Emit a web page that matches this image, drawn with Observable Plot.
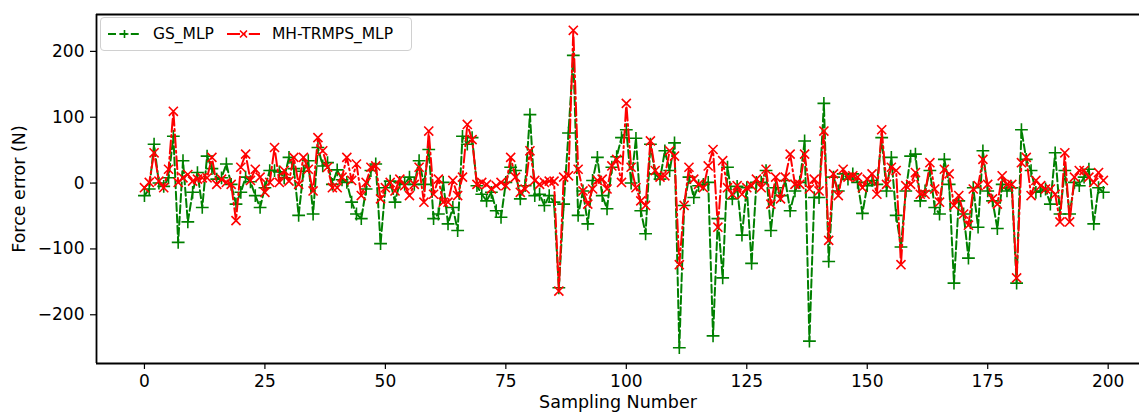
<!DOCTYPE html>
<html><head><meta charset="utf-8">
<script src="https://cdn.jsdelivr.net/npm/d3@7"></script>
<script src="https://cdn.jsdelivr.net/npm/@observablehq/plot@0.6"></script>
<style>
body{margin:0;background:#fff;font-family:"DejaVu Sans",sans-serif;}
#wrap{position:relative;width:1139px;height:412px;overflow:hidden;}
#legend{position:absolute;left:100px;top:17px;width:310px;height:32px;border:1px solid #d0d0d0;border-radius:4px;background:rgba(255,255,255,0.85);font-size:15.5px;color:#000;}
#legend .it{position:absolute;top:0;height:32px;display:flex;align-items:center;}
#legend svg{overflow:visible}
</style></head><body><div id="wrap"></div>
<script>
const seriesNames = ["GS_MLP", "MH-TRMPS_MLP"];
const seriesColors = ["green", "red"];
const xTicks = [0, 25, 50, 75, 100, 125, 150, 175, 200];
const yTicks = [-200, -100, 0, 100, 200];
const gsMLP = [
 -19,-9,59,0,-5,8,71,-90,34,-59, -14,16,-37,41,22,6,8,29,-2,-32,
 -14,9,2,-19,-37,-7,19,19,17,8, 39,22,-49,18,34,-47,54,26,31,-2,
 20,5,1,-29,-47,-54,-9,19,29,-92, -7,3,-29,1,-2,9,-2,34,-2,51,
 -54,-47,1,-62,-37,-72,71,59,69,-4, -17,-27,-14,-42,-52,1,24,19,-24,-4,
 104,-19,-17,-34,-19,-29,-159,-32,76,194, -49,-12,-62,4,39,-19,-39,24,40,69,
 81,0,68,-42,-77,59,14,6,49,19, 61,-250,-34,9,-22,-4,-2,1,-232,-54,
 -144,24,-24,-5,-79,-7,-122,1,1,19, -72,-7,-19,4,-42,-12,1,64,-240,-22,
 -22,121,-119,9,-12,14,6,14,1,-46, -4,4,-2,69,-12,39,-49,-97,-12,41,
 44,-27,-12,19,-37,-47,36,-2,-152,-27, -47,-114,-7,-67,49,-12,-27,-69,-2,-12,
 -7,-152,81,36,19,-14,-12,-9,-32,46, -47,19,-47,1,-4,9,21,-62,-7,-14
];
const mhTRMPS = [
 -7,1,46,3,-7,21,109,1,8,13, 3,6,8,8,39,-2,6,1,-2,-57,
 24,44,4,21,9,-14,1,54,1,19, 3,39,-2,39,21,-12,69,49,24,-7,
 -7,9,39,4,29,-19,1,24,26,-24, -7,1,-12,6,-4,-19,-2,24,-29,79,
 -17,6,-29,-29,4,-19,9,89,66,-2, 1,-2,-9,-4,1,-4,39,9,-14,-9,
 49,4,-2,1,3,3,-164,9,11,232, 21,-12,-32,-9,4,6,-9,26,36,1,
 121,24,-7,-27,-34,64,19,9,11,49, 41,-124,-34,24,6,-2,-7,26,51,-67,
 34,-7,-17,-4,-17,-7,-4,6,-7,21, -32,9,-24,9,44,-2,-2,44,-9,6,
 -12,79,-87,14,-19,21,9,11,9,-7, 6,14,-17,81,-2,24,19,-124,-4,-2,
 16,-17,-17,31,-9,-29,21,14,-34,-19, -47,-64,-9,-4,36,-2,-24,-32,11,-2,
 -2,-144,31,39,-19,4,-4,-9,-9,-17, -59,46,-59,9,19,19,9,1,16,4
];
const sampling = gsMLP.map((_, i) => i);

const gs = sampling.map((s, i) => ({s, v: gsMLP[i]}));
const mh = sampling.map((s, i) => ({s, v: mhTRMPS[i]}));
const xDom = [-9.95, 206.5], yDom = [-274, 256];
const fmt = d => d < 0 ? "\u2212" + Math.abs(d) : String(d);
const gDash = "8,3.4", rDash = "13,3.4,2,3.4";

const chart = Plot.plot({
  width: 1139, height: 412,
  marginLeft: 96, marginRight: 0, marginTop: 14, marginBottom: 49,
  style: {fontFamily: "DejaVu Sans, sans-serif", fontSize: "17px", color: "#000", background: "#fff"},
  x: {domain: xDom},
  y: {domain: yDom},
  marks: [
    Plot.axisX({ticks: xTicks, tickSize: 6, tickPadding: 5, fontSize: 17, label: null, strokeWidth: 1.2}),
    Plot.axisY({ticks: yTicks, tickSize: 6, tickPadding: 6, fontSize: 17, label: null, tickFormat: fmt, strokeWidth: 1.2}),
    Plot.text(["Sampling Number"], {frameAnchor: "bottom", dy: 39, fontSize: 17.5, lineAnchor: "middle"}),
    Plot.text(["Force error (N)"], {frameAnchor: "left", dx: -77, rotate: -90, fontSize: 17.5, textAnchor: "middle"}),
    Plot.line(gs, {x: "s", y: "v", stroke: seriesColors[0], strokeWidth: 2, strokeDasharray: gDash}),
    Plot.dot(gs, {x: "s", y: "v", stroke: seriesColors[0], symbol: "plus", r: 4.2, strokeWidth: 1.6}),
    Plot.line(mh, {x: "s", y: "v", stroke: seriesColors[1], strokeWidth: 2, strokeDasharray: rDash}),
    Plot.dot(mh, {x: "s", y: "v", stroke: seriesColors[1], symbol: "times", r: 4.2, strokeWidth: 1.6}),
    Plot.ruleX([xDom[0]], {stroke: "#000", strokeWidth: 1.8}),
    Plot.ruleY([yDom[0], yDom[1]], {stroke: "#000", strokeWidth: 1.8})
  ]
});
const wrap = document.getElementById("wrap");
wrap.appendChild(chart);

const lg = document.createElement("div");
lg.id = "legend";
const items = [
  {left: 7, name: seriesNames[0], color: seriesColors[0], dash: gDash, path: "M-4,0H4M0,-4V4"},
  {left: 126, name: seriesNames[1], color: seriesColors[1], dash: rDash, path: "M-3.5,-3.5L3.5,3.5M-3.5,3.5L3.5,-3.5"}
];
items.forEach(it => {
  const d = document.createElement("div");
  d.className = "it";
  d.style.left = it.left + "px";
  d.innerHTML = `<svg width="33" height="12"><line x1="0" y1="6" x2="33" y2="6" stroke="${it.color}" stroke-width="2" stroke-dasharray="${it.dash}"/><path transform="translate(16.5,6)" d="${it.path}" stroke="${it.color}" stroke-width="1.6" fill="none"/></svg><span style="margin-left:12px">${it.name}</span>`;
  lg.appendChild(d);
});
wrap.appendChild(lg);
</script>
</body></html>
